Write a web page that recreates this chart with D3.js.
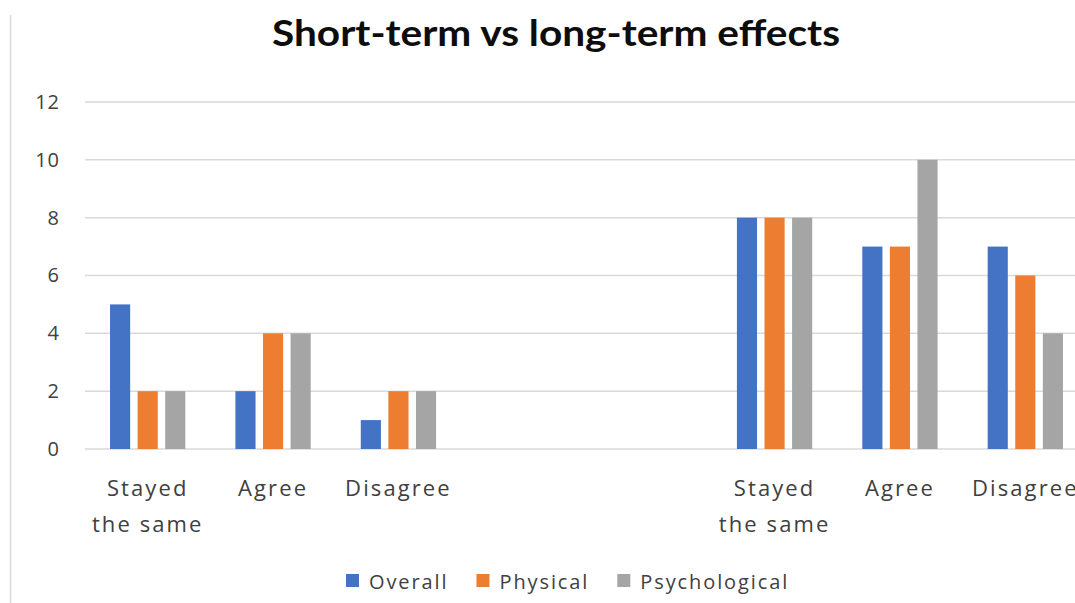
<!DOCTYPE html>
<html>
<head>
<meta charset="utf-8">
<script src="https://cdn.jsdelivr.net/npm/d3@7"></script>
<style>
  body { margin: 0; background: #fff; }
  svg { display: block; }
  .grid line { stroke: #d9d9d9; stroke-width: 1.5; }
  .axis text { fill: #404040; font-family: "Open Sans", sans-serif; }
</style>
</head>
<body>
<svg id="chart" width="1075" height="603"></svg>
<script>
// categories (two empty slots separate short-term and long-term)
var categories = ["st1", "ag1", "di1", "gap1", "gap2", "st2", "ag2", "di2"];
var tickLabels = ["Stayed the same", "Agree", "Disagree", "", "", "Stayed the same", "Agree", "Disagree"];
var seriesNames = ["Overall", "Physical", "Psychological"];
var overall = [5, 2, 1, null, null, 8, 7, 7];
var physical = [2, 4, 2, null, null, 8, 7, 6];
var psychological = [2, 4, 2, null, null, 8, 10, 4];
var yTicks = [0, 2, 4, 6, 8, 10, 12];

var colors = ["#4472C4", "#ED7D31", "#A5A5A5"];
var seriesValues = [overall, physical, psychological];

var svg = d3.select("#chart");
var margin = { top: 102, right: -13, bottom: 154, left: 85 },
    width = +svg.attr("width") - margin.left - margin.right,
    height = +svg.attr("height") - margin.top - margin.bottom;

// outer chart border (only the left edge is visible in the crop)
svg.append("line")
  .attr("x1", 10.5).attr("x2", 10.5)
  .attr("y1", 15).attr("y2", 603)
  .attr("stroke", "#d9d9d9").attr("stroke-width", 1.5);

svg.append("text")
  .attr("x", 556)
  .attr("y", 46)
  .attr("text-anchor", "middle")
  .attr("textLength", 568)
  .attr("lengthAdjust", "spacingAndGlyphs")
  .style("font-family", "Lato, sans-serif")
  .style("font-weight", "bold")
  .style("font-size", "37px")
  .style("fill", "#0d0d0d")
  .text("Short-term vs long-term effects");

var g = svg.append("g")
  .attr("transform", "translate(" + margin.left + "," + margin.top + ")");

var x0 = d3.scaleBand().domain(categories).range([0, width]).paddingInner(0.34).paddingOuter(0.17);
var x1 = d3.scaleBand().domain(seriesNames).range([0, x0.bandwidth()]).paddingInner(0.27).paddingOuter(0.135);
var y = d3.scaleLinear().domain([0, 12]).range([height, 0]);

// gridlines
g.append("g")
  .attr("class", "grid")
  .selectAll("line")
  .data(yTicks)
  .enter()
  .append("line")
  .attr("x1", 0)
  .attr("x2", width)
  .attr("y1", function(d) { return y(d); })
  .attr("y2", function(d) { return y(d); });

// y axis labels
var yAxis = g.append("g")
  .attr("class", "axis axis-y")
  .attr("transform", "translate(-25,0)")
  .call(d3.axisLeft(y).tickValues(yTicks).tickSize(0).tickPadding(0));
yAxis.select(".domain").remove();
yAxis.selectAll("text").style("font-size", "20px").style("letter-spacing", "1px");

// bars
var rows = categories.map(function(c, i) {
  return {
    cat: c,
    values: seriesNames.map(function(s, j) { return { name: s, value: seriesValues[j][i], color: colors[j] }; })
  };
});

var groups = g.selectAll(".group")
  .data(rows)
  .enter()
  .append("g")
  .attr("class", "group")
  .attr("transform", function(d) { return "translate(" + x0(d.cat) + ",0)"; });

groups.selectAll("rect")
  .data(function(d) { return d.values.filter(function(v) { return v.value != null; }); })
  .enter()
  .append("rect")
  .attr("x", function(d) { return x1(d.name); })
  .attr("width", x1.bandwidth())
  .attr("y", function(d) { return y(d.value); })
  .attr("height", function(d) { return height - y(d.value); })
  .style("fill", function(d) { return d.color; });

// x axis labels (two lines where needed)
var xAxis = g.append("g")
  .attr("class", "axis axis-x")
  .attr("transform", "translate(0," + height + ")")
  .call(d3.axisBottom(x0).tickSize(0).tickFormat(function(d, i) { return tickLabels[i]; }));
xAxis.select(".domain").remove();
xAxis.selectAll("text")
  .style("font-size", "22px")
  .style("letter-spacing", "2.1px")
  .attr("dy", null)
  .each(function(d) {
    var t = d3.select(this);
    var label = tickLabels[categories.indexOf(d)];
    var words = label === "Stayed the same" ? ["Stayed", "the same"] : [label];
    t.text(null);
    words.forEach(function(w, k) {
      t.append("tspan").attr("x", 0).attr("y", 47 + k * 36).text(w);
    });
  });

// legend
var legend = svg.append("g").attr("class", "legend");
var lx = 346;
seriesNames.forEach(function(s, i) {
  legend.append("rect")
    .attr("x", lx).attr("y", 574)
    .attr("width", 13).attr("height", 13)
    .style("fill", colors[i]);
  var txt = legend.append("text")
    .attr("x", lx + 23).attr("y", 589)
    .style("font-family", "Open Sans, sans-serif")
    .style("font-size", "20px")
    .style("letter-spacing", "1.9px")
    .style("fill", "#404040")
    .text(s);
  lx += 23 + txt.node().getComputedTextLength() + 28;
});
</script>
</body>
</html>
